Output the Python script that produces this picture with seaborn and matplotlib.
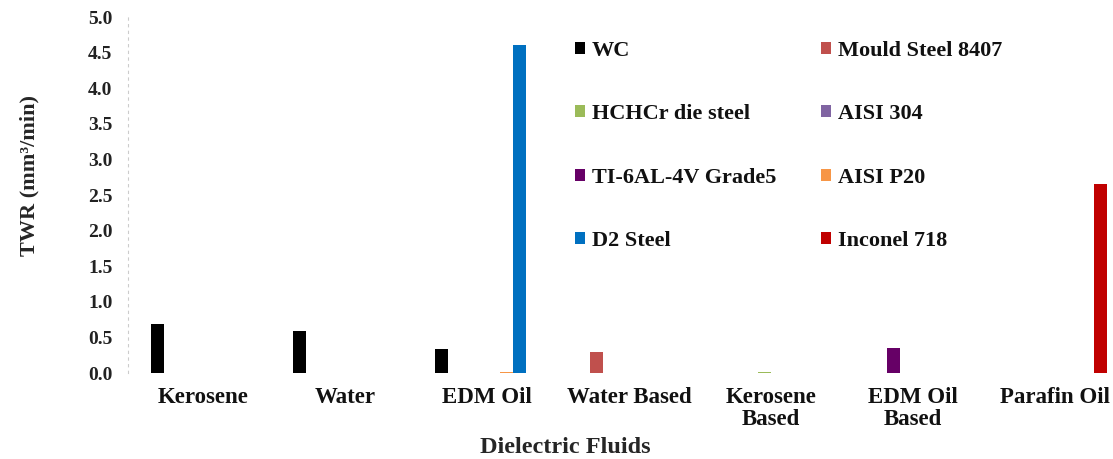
import matplotlib
matplotlib.use("Agg")
import matplotlib.pyplot as plt
from matplotlib.patches import Patch
import seaborn as sns
import pandas as pd

categories = ["Kerosene", "Water", "EDM Oil", "Water Based", "Kerosene\nBased", "EDM Oil\nBased", "Parafin Oil"]
series_order = ["WC", "Mould Steel 8407", "TI-6AL-4V Grade5", "HCHCr die steel",
                "AISI 304", "AISI P20", "D2 Steel", "Inconel 718"]
wc = [0.69, 0.59, 0.34, 0, 0, 0, 0]
mould_8407 = [0, 0, 0, 0.30, 0, 0, 0]
ti_6al_4v = [0, 0, 0, 0, 0, 0.35, 0]
hchcr = [0, 0, 0, 0, 0.012, 0, 0]
aisi_304 = [0, 0, 0, 0, 0, 0, 0]
aisi_p20 = [0, 0, 0.012, 0, 0, 0, 0]
d2_steel = [0, 0, 4.61, 0, 0, 0, 0]
inconel_718 = [0, 0, 0, 0, 0, 0, 2.66]
colors = {"WC": "#000000", "Mould Steel 8407": "#C0504D", "HCHCr die steel": "#9BBB59",
          "AISI 304": "#8064A2", "TI-6AL-4V Grade5": "#660066", "AISI P20": "#F79646",
          "D2 Steel": "#0070C0", "Inconel 718": "#C00000"}
legend_order = ["WC", "HCHCr die steel", "TI-6AL-4V Grade5", "D2 Steel",
                "Mould Steel 8407", "AISI 304", "AISI P20", "Inconel 718"]
yticks = [0.0, 0.5, 1.0, 1.5, 2.0, 2.5, 3.0, 3.5, 4.0, 4.5, 5.0]

vals = {"WC": wc, "Mould Steel 8407": mould_8407, "TI-6AL-4V Grade5": ti_6al_4v,
        "HCHCr die steel": hchcr, "AISI 304": aisi_304, "AISI P20": aisi_p20,
        "D2 Steel": d2_steel, "Inconel 718": inconel_718}
rows = []
for s in series_order:
    for c, v in zip(categories, vals[s]):
        rows.append({"Fluid": c, "Material": s, "TWR": v})
df = pd.DataFrame(rows)

sns.set_style("white")
plt.rcParams["font.family"] = ["Liberation Serif", "DejaVu Serif"]
plt.rcParams["font.weight"] = "bold"
plt.rcParams["text.color"] = "#111111"

fig = plt.figure(figsize=(11.13, 4.59), dpi=100)
ax = fig.add_axes([132 / 1113, 86 / 459, 994 / 1113, 356 / 459])
sns.barplot(data=df, x="Fluid", y="TWR", hue="Material", order=categories,
            hue_order=series_order, palette=colors, width=0.73, linewidth=0,
            saturation=1, legend=False, ax=ax, errorbar=None)

ax.set_xlim(-0.5, 6.5)
ax.set_ylim(0, 5.0)
ax.set_yticks(yticks)
ax.set_yticklabels([f"{t:.1f}" for t in yticks])
ax.tick_params(axis="y", length=0, pad=11, labelsize=14, labelcolor="#222222")
ax.tick_params(axis="x", length=0, pad=10, labelsize=16.5, labelcolor="#111111")
for lab in ax.get_xticklabels() + ax.get_yticklabels():
    lab.set_fontweight("bold")
for lab in ax.get_xticklabels():
    lab.set_linespacing(1.05)
ax.set_xticks([1.5, 2.5, 3.5], minor=True)
ax.tick_params(axis="x", which="minor", length=4, width=0.8, color="#555555", direction="out")

for side in ["top", "right", "bottom"]:
    ax.spines[side].set_visible(False)
ax.spines["left"].set_color("#cccccc")
ax.spines["left"].set_linestyle((0, (2, 4)))
ax.spines["left"].set_linewidth(0.8)
ax.spines["left"].set_position(("outward", 3))

ax.set_ylabel("TWR (mm³/min)", fontsize=16, fontweight="bold")
ax.yaxis.set_label_coords(-93 / 994, (373 - 176) / 356)
ax.set_xlabel("Dielectric Fluids", fontsize=17.5, fontweight="bold")
ax.xaxis.set_label_coords((565 - 132) / 994, -64 / 356)

handles = [Patch(facecolor=colors[s], edgecolor="none", label=s) for s in legend_order]
ax.legend(handles=handles, ncol=2, frameon=False, loc="upper left",
          bbox_to_anchor=((566 - 132) / 994, (373 - 32) / 356),
          prop={"family": "Liberation Serif", "weight": "bold", "size": 16},
          handlelength=0.45, handleheight=0.45, handletextpad=0.32,
          labelspacing=1.95, columnspacing=2.0, borderaxespad=0)

fig.savefig("out.png", dpi=100, facecolor="white")
